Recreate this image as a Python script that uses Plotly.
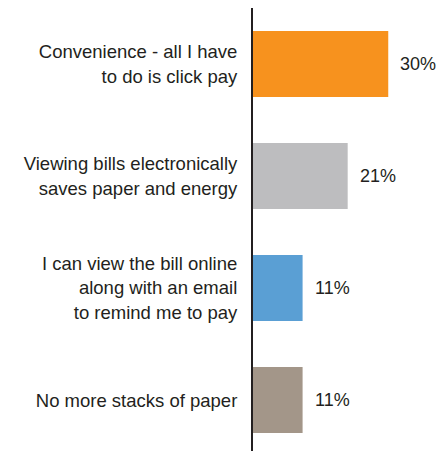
import plotly.graph_objects as go

categories = [
    "Convenience - all I have<br>to do is click pay",
    "Viewing bills electronically<br>saves paper and energy",
    "I can view the bill online<br>along with an email<br>to remind me to pay",
    "No more stacks of paper",
]
values = [30, 21, 11, 11]
value_labels = ["30%", "21%", "11%", "11%"]
colors = ["#F7921E", "#BDBDBF", "#5A9FD4", "#A39689"]

FONT = "Liberation Sans, Arial, sans-serif"
TXT = "#231F20"

fig = go.Figure(go.Bar(
    x=values, y=categories, orientation="h",
    marker=dict(color=colors, line=dict(width=0)),
    width=0.59, hoverinfo="skip",
))

for v, c, lab in zip(values, categories, value_labels):
    fig.add_annotation(x=v, y=c, text=lab, showarrow=False, xanchor="left",
                       xshift=10, font=dict(size=18, color=TXT, family=FONT))

fig.update_layout(
    width=441, height=451,
    margin=dict(l=253, r=0, t=8, b=0),
    plot_bgcolor="white", paper_bgcolor="white",
    showlegend=False,
    font=dict(family=FONT, size=18.5, color=TXT),
    xaxis=dict(range=[0, 41.7], visible=False, fixedrange=True),
    yaxis=dict(range=[3.455, -0.5], showline=True, linecolor="#231F20", linewidth=2,
               showgrid=False, zeroline=False, ticks="", ticklabelstandoff=10,
               tickfont=dict(size=18.5, color=TXT, family=FONT), fixedrange=True),
)

fig.write_html("out.html")
